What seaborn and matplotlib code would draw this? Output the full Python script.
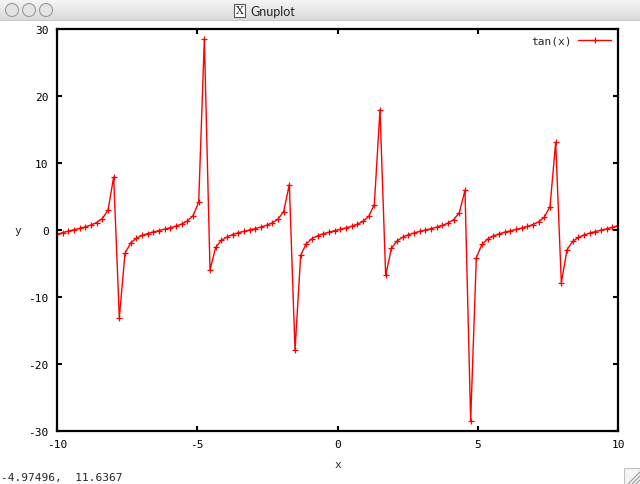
import numpy as np
import pandas as pd
import matplotlib
matplotlib.use("Agg")
import matplotlib.pyplot as plt
from matplotlib.patches import Circle, Rectangle
import seaborn as sns

# samples of tan(x) (100 samples on [-10, 10])
xs = [-10.000, -9.798, -9.596, -9.394, -9.192, -8.990, -8.788, -8.586, -8.384, -8.182,
      -7.980, -7.778, -7.576, -7.374, -7.172, -6.970, -6.768, -6.566, -6.364, -6.162,
      -5.960, -5.758, -5.556, -5.354, -5.152, -4.949, -4.747, -4.545, -4.343, -4.141,
      -3.939, -3.737, -3.535, -3.333, -3.131, -2.929, -2.727, -2.525, -2.323, -2.121,
      -1.919, -1.717, -1.515, -1.313, -1.111, -0.909, -0.707, -0.505, -0.303, -0.101,
      0.101, 0.303, 0.505, 0.707, 0.909, 1.111, 1.313, 1.515, 1.717, 1.919,
      2.121, 2.323, 2.525, 2.727, 2.929, 3.131, 3.333, 3.535, 3.737, 3.939,
      4.141, 4.343, 4.545, 4.747, 4.949, 5.152, 5.354, 5.556, 5.758, 5.960,
      6.162, 6.364, 6.566, 6.768, 6.970, 7.172, 7.374, 7.576, 7.778, 7.980,
      8.182, 8.384, 8.586, 8.788, 8.990, 9.192, 9.394, 9.596, 9.798, 10.000]
ys = [-0.648, -0.392, -0.173, 0.031, 0.237, 0.465, 0.740, 1.113, 1.707, 2.940,
      7.906, -13.098, -3.501, -1.920, -1.231, -0.819, -0.526, -0.290, -0.081, 0.122,
      0.335, 0.580, 0.891, 1.340, 2.129, 4.138, 28.494, -5.935, -2.586, -1.557,
      -1.025, -0.678, -0.415, -0.194, 0.010, 0.216, 0.440, 0.708, 1.068, 1.630,
      2.753, 6.783, -17.952, -3.795, -2.020, -1.284, -0.854, -0.553, -0.313, -0.101,
      0.101, 0.313, 0.553, 0.854, 1.284, 2.020, 3.795, 17.952, -6.783, -2.753,
      -1.630, -1.068, -0.708, -0.440, -0.216, -0.010, 0.194, 0.415, 0.678, 1.025,
      1.557, 2.586, 5.935, -28.494, -4.138, -2.129, -1.340, -0.891, -0.580, -0.335,
      -0.122, 0.081, 0.290, 0.526, 0.819, 1.231, 1.920, 3.501, 13.098, -7.906,
      -2.940, -1.707, -1.113, -0.740, -0.465, -0.237, -0.031, 0.173, 0.392, 0.648]
series_name = "tan(x)"
xticks = [-10, -5, 0, 5, 10]
yticks = [-30, -20, -10, 0, 10, 20, 30]
status_text = "-4.97496,  11.6367"
window_title = "Gnuplot"

sns.set_style("white")
plt.rcParams["font.family"] = ["DejaVu Sans Mono", "DejaVu Sans"]
FS = 8

W, H = 640, 485
fig = plt.figure(figsize=(W / 100, H / 100), dpi=100)
fig.patch.set_facecolor("white")

# plot area in pixels
L, R, T, B = 57, 618, 30, 432
ax = fig.add_axes([L / W, (H - B) / H, (R - L) / W, (B - T) / H])

df = pd.DataFrame({"x": xs, "y": ys})
sns.lineplot(data=df, x="x", y="y", ax=ax, color="red", lw=1.0,
             marker="+", markersize=4.5, markeredgewidth=0.9,
             markeredgecolor="red", sort=False, label=series_name)

ax.set_xlim(-10, 10)
ax.set_ylim(-30, 30)
ax.set_xticks(xticks)
ax.set_yticks(yticks)
ax.set_xticklabels([str(v) for v in xticks], fontsize=FS)
ax.set_yticklabels([str(v) for v in yticks], fontsize=FS)
ax.tick_params(direction="in", length=3.5, width=1.5, top=True, right=True,
               bottom=True, left=True, pad=6, colors="black")
for s in ax.spines.values():
    s.set_linewidth(1.6)
    s.set_color("black")
ax.set_xlabel("")
ax.set_ylabel("")
fig.text(338 / W, 1 - 465 / H, "x", fontsize=FS, ha="center", va="center")
fig.text(18 / W, 1 - 231 / H, "y", fontsize=FS, ha="center", va="center")

leg = ax.legend(loc="upper right", frameon=False, fontsize=FS, handlelength=3.0,
                markerfirst=False, borderaxespad=0.2, handletextpad=0.6)

# status line and resize grip
fig.text(1 / W, 1 - 478 / H, status_text, fontsize=FS, ha="left", va="center")
grip = fig.add_axes([624 / W, 0, 16 / W, 16 / H])
grip.set_xlim(0, 16)
grip.set_ylim(0, 16)
grip.axis("off")
grip.add_patch(Rectangle((0, 0), 16, 16, facecolor="#f4f4f4", edgecolor="#c0c0c0", lw=0.8))
for k in (4, 8, 12):
    grip.plot([k, 16], [0, 16 - k], color="#9a9a9a", lw=0.8)

# window title bar
bar = fig.add_axes([0, 1 - 22 / H, 1, 22 / H])
bar.set_xlim(0, W)
bar.set_ylim(22, 0)
bar.axis("off")
grad = np.linspace(0, 1, 22)[:, None]
bar.imshow(grad, cmap=matplotlib.colors.LinearSegmentedColormap.from_list(
    "tb", ["#f6f6f6", "#d9d9d9"]), extent=[0, W, 22, 0], aspect="auto")
bar.plot([0, W], [21.5, 21.5], color="#8a8a8a", lw=1)
for cx in (12, 29, 46):
    bar.add_patch(Circle((cx, 11), 6.5, facecolor="#e4e4e4", edgecolor="#9a9a9a", lw=0.8))
bar.add_patch(Rectangle((234, 4.5), 11, 13, facecolor="white", edgecolor="#555555", lw=0.8))
bar.text(239.5, 11.5, "X", fontsize=8, ha="center", va="center", family="DejaVu Serif")
bar.text(250, 11.5, window_title, fontsize=9, ha="left", va="center", family="Lato")

fig.savefig("out.png", dpi=100, facecolor="white")
